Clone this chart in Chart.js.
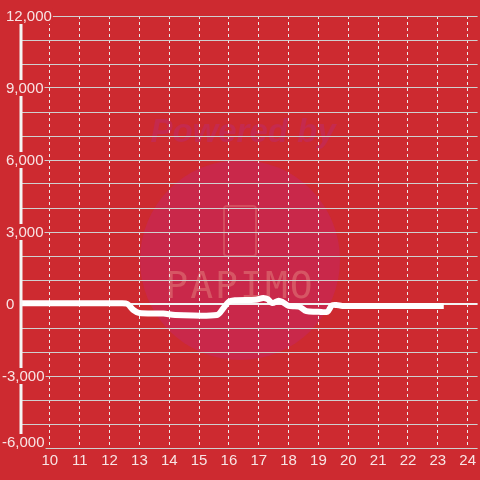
<!DOCTYPE html>
<html>
<head>
<meta charset="utf-8">
<script src="https://cdn.jsdelivr.net/npm/chart.js@4/dist/chart.umd.min.js"></script>
<style>
  html, body { margin: 0; padding: 0; background: #cd2a30; }
  #wrap { width: 480px; height: 480px; position: relative; }
</style>
</head>
<body>
<div id="wrap"><canvas id="chart"></canvas></div>
<script>
// data (hour of day -> value)
const hours = [9, 12.4, 12.6, 12.8, 13.0, 13.8, 14.2, 15.6, 15.8, 16.0, 16.2, 16.9, 17.15, 17.3, 17.45, 17.67, 17.8, 18.0, 18.35, 18.6, 19.0, 19.3, 19.45, 19.6, 19.8, 23.2];
const values = [30, 30, 0, -250, -375, -400, -460, -460, -200, 100, 160, 180, 250, 200, 40, 140, 80, -80, -110, -300, -320, -320, -60, -40, -80, -80];

const yTickValues = [12000, 9000, 6000, 3000, 0, -3000, -6000];
const yTickLabels = ['12,000', '9,000', '6,000', '3,000', '0', '-3,000', '-6,000'];

const BG = '#cd2a30';
const TEXT = '#f8e4e4';

// red page colour + faint watermark behind the grid
const backdrop = {
  id: 'backdrop',
  beforeDraw(chart) {
    const c = chart.ctx;
    c.save();
    c.fillStyle = BG;
    c.fillRect(0, 0, chart.width, chart.height);

    c.fillStyle = '#c9284a';
    c.beginPath();
    c.arc(240, 260, 100, 0, Math.PI * 2);
    c.fill();

    c.fillStyle = '#c52a4e';
    c.font = 'italic bold 33px "Liberation Sans"';
    c.textAlign = 'center';
    c.textBaseline = 'middle';
    c.fillText('Powered by', 243, 133);

    c.strokeStyle = '#d44c5e';
    c.lineWidth = 2;
    c.beginPath();
    c.roundRect(224, 206, 32, 50, 3);
    c.stroke();

    c.fillStyle = '#d65664';
    c.font = '38px "DejaVu Sans Mono"';
    c.letterSpacing = '2px';
    c.fillText('PAPIMO', 240, 288);
    c.restore();
  }
};

// y axis line and the tick labels sitting on red boxes
const yAxisDecor = {
  id: 'yAxisDecor',
  afterDraw(chart) {
    const c = chart.ctx;
    const y = chart.scales.y;
    const area = chart.chartArea;
    c.save();
    c.fillStyle = '#f4f4f4';
    c.fillRect(19.5, area.top, 3, area.bottom - area.top);

    c.font = '15px "Liberation Sans"';
    c.textBaseline = 'middle';
    c.textAlign = 'left';
    yTickValues.forEach((v, i) => {
      const py = Math.min(y.getPixelForValue(v), area.bottom - 6);
      const label = yTickLabels[i];
      const x = v < 0 ? 2 : 6;
      const w = c.measureText(label).width;
      c.fillStyle = BG;
      c.fillRect(x - 1, py - 8, w + 2, 16);
      c.fillStyle = TEXT;
      c.fillText(label, x, py + 1);
    });
    c.restore();
  }
};

const ctx = document.getElementById('chart').getContext('2d');
new Chart(ctx, {
  type: 'line',
  data: {
    datasets: [{
      data: hours.map((h, i) => ({ x: h, y: values[i] })),
      borderColor: '#ffffff',
      borderWidth: 6,
      pointRadius: 0,
      tension: 0.3,
      borderJoinStyle: 'round',
      fill: false,
    }],
  },
  options: {
    responsive: true,
    maintainAspectRatio: false,
    animation: false,
    layout: { padding: { top: 16, left: 0, right: 0, bottom: 0 } },
    scales: {
      x: {
        type: 'linear',
        min: 9,
        max: 24.333,
        grid: {
          color: '#ececec',
          lineWidth: 1,
          drawTicks: false,
        },
        border: { display: false, dash: [3, 3] },
        ticks: {
          stepSize: 1,
          includeBounds: false,
          padding: 4,
          color: TEXT,
          font: { family: 'Liberation Sans', size: 15 },
          maxRotation: 0,
          callback: function (value) {
            return value >= 10 ? String(value) : '';
          },
        },
        afterFit(scale) { scale.height = 32; },
      },
      y: {
        min: -6000,
        max: 12000,
        border: { display: false },
        grid: {
          color: (c) => (c.tick && c.tick.value === 0 ? '#f2f2f2' : '#cfcfcf'),
          lineWidth: (c) => (c.tick && c.tick.value === 0 ? 2 : 1),
          drawTicks: false,
        },
        ticks: { stepSize: 1000, display: false },
        afterFit(scale) { scale.width = 20; },
      },
    },
    plugins: {
      legend: { display: false },
      tooltip: { enabled: false },
    },
  },
  plugins: [backdrop, yAxisDecor],
});
</script>
</body>
</html>
